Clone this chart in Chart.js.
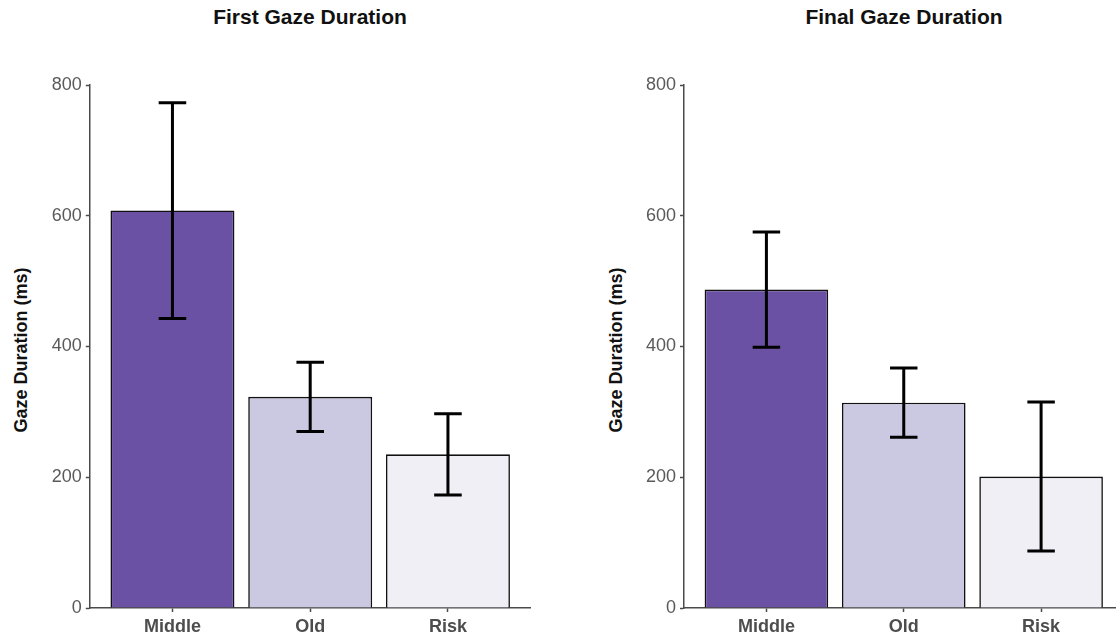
<!DOCTYPE html>
<html><head><meta charset="utf-8">
<script src="https://cdn.jsdelivr.net/npm/chart.js@4/dist/chart.umd.min.js"></script>
<style>
html,body{margin:0;padding:0;width:1116px;height:636px;overflow:hidden;background:#fff;font-family:"Liberation Sans",Arial,sans-serif;position:relative;}
.panel{position:absolute;top:0;height:636px;}
.title{position:absolute;font-weight:bold;font-size:21px;line-height:21px;color:#111;white-space:nowrap;transform:translateX(-50%);top:6px;}
.ytitle{position:absolute;font-weight:bold;font-size:18px;line-height:18px;color:#111;white-space:nowrap;transform:translate(-50%,-50%) rotate(-90deg);}
</style></head><body>
<div class="title" style="left:310px">First Gaze Duration</div>
<div class="title" style="left:904px">Final Gaze Duration</div>
<div class="ytitle" style="left:21px;top:350px">Gaze Duration (ms)</div>
<div class="ytitle" style="left:616px;top:350px">Gaze Duration (ms)</div>
<div class="panel" style="left:0;width:560px"><canvas id="c1" width="560" height="636"></canvas></div>
<div class="panel" style="left:594px;width:540px"><canvas id="c2" width="540" height="636"></canvas></div>
<script>
const categories = ['Middle', 'Old', 'Risk'];
const firstMeans = [608, 323, 235];
const firstErr = [165, 53, 62];
const finalMeans = [487, 314, 201];
const finalErr = [88, 53, 114];
const yTickValues = [0, 200, 400, 600, 800];
const barColors = ['#6a51a3', '#cbc9e2', '#f0eff6'];

const positions = categories.map((c, i) => i + 1);

const errorBarPlugin = {
  id: 'errorBars',
  afterDatasetsDraw(chart, args, opts) {
    const ctx = chart.ctx;
    const xs = chart.scales.x, ys = chart.scales.y;
    ctx.save();
    ctx.strokeStyle = '#000';
    ctx.lineWidth = 3;
    ctx.lineCap = 'butt';
    opts.means.forEach((m, i) => {
      const x = xs.getPixelForValue(positions[i]);
      const half = Math.abs(xs.getPixelForValue(positions[i] + 0.1) - x);
      const yHi = ys.getPixelForValue(m + opts.errs[i]);
      const yLo = ys.getPixelForValue(m - opts.errs[i]);
      ctx.beginPath();
      ctx.moveTo(x, yHi); ctx.lineTo(x, yLo);
      ctx.moveTo(x - half, yHi); ctx.lineTo(x + half, yHi);
      ctx.moveTo(x - half, yLo); ctx.lineTo(x + half, yLo);
      ctx.stroke();
    });
    ctx.restore();
  }
};

function makeChart(id, means, errs, rightPad) {
  const axisColor = '#4a4a4a';
  return new Chart(document.getElementById(id), {
    type: 'bar',
    data: {
      datasets: [{
        data: means.map((v, i) => ({ x: positions[i], y: v })),
        backgroundColor: barColors,
        borderColor: '#111',
        borderWidth: 1.6,
        categoryPercentage: 1,
        barPercentage: 0.9
      }]
    },
    plugins: [errorBarPlugin],
    options: {
      responsive: false,
      animation: false,
      devicePixelRatio: 1,
      layout: { padding: { top: 85, right: rightPad, left: 0, bottom: 0 } },
      plugins: {
        legend: { display: false },
        tooltip: { enabled: false },
        errorBars: { means: means, errs: errs }
      },
      scales: {
        x: {
          type: 'linear',
          min: 0.4, max: 3.6,
          offset: false,
          afterBuildTicks(scale) { scale.ticks = positions.map(v => ({ value: v })); },
          afterFit(scale) { scale.height = 28; },
          grid: { display: true, offset: false, drawOnChartArea: false, drawTicks: true, tickLength: 4, tickColor: axisColor, tickWidth: 1.5 },
          border: { display: true, color: axisColor, width: 1.5 },
          ticks: {
            autoSkip: false, maxRotation: 0, padding: 4,
            color: '#4d4d4d',
            font: { family: 'Liberation Sans', size: 18, weight: 'bold' },
            callback: v => categories[v - 1]
          }
        },
        y: {
          min: 0, max: 800,
          afterBuildTicks(scale) { scale.ticks = yTickValues.map(v => ({ value: v })); },
          afterFit(scale) { scale.width = id === 'c1' ? 89.8 : 90; },
          grid: { display: true, drawOnChartArea: false, drawTicks: true, tickLength: 4, tickColor: axisColor, tickWidth: 1.5 },
          border: { display: true, color: axisColor, width: 1.5 },
          ticks: {
            padding: 4,
            color: '#5a5a5a',
            font: { family: 'Liberation Sans', size: 18 }
          }
        }
      }
    }
  });
}

makeChart('c1', firstMeans, firstErr, 29.4);
makeChart('c2', finalMeans, finalErr, 10.5);
</script>
</body></html>
